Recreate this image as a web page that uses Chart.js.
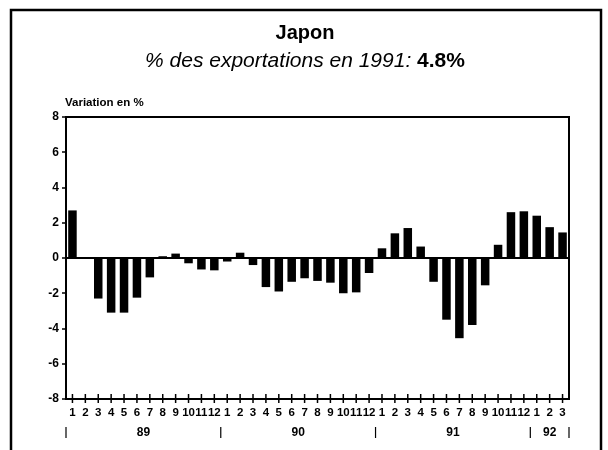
<!DOCTYPE html>
<html>
<head>
<meta charset="utf-8">
<script src="https://cdn.jsdelivr.net/npm/chart.js@4"></script>
<style>
  html, body { margin: 0; padding: 0; background: #fff; }
  #wrap { width: 608px; height: 450px; }
</style>
</head>
<body>
<div id="wrap"><canvas id="chart" width="608" height="450"></canvas></div>
<script>
// Monthly labels, Jan 1989 - Mar 1992
const months = [
  '1','2','3','4','5','6','7','8','9','10','11','12',
  '1','2','3','4','5','6','7','8','9','10','11','12',
  '1','2','3','4','5','6','7','8','9','10','11','12',
  '1','2','3'
];
const years = ['89', '90', '91', '92'];
const variation = [
  2.7, -0.05, -2.3, -3.1, -3.1, -2.25, -1.1, 0.1, 0.25, -0.3, -0.65, -0.7,
  -0.2, 0.3, -0.4, -1.65, -1.9, -1.35, -1.15, -1.3, -1.4, -2.0, -1.95, -0.85,
  0.55, 1.4, 1.7, 0.65, -1.35, -3.5, -4.55, -3.8, -1.55, 0.75, 2.6, 2.65, 2.4,
  1.75, 1.45
];
const yTicks = [-8, -6, -4, -2, 0, 2, 4, 6, 8];

const FONT = '"Liberation Sans", Arial, sans-serif';

// Frame, titles, month ticks and year separators
const decorPlugin = {
  id: 'decor',
  afterDraw(chart) {
    const ctx = chart.ctx;
    const area = chart.chartArea;
    const x = chart.scales.x;
    ctx.save();
    ctx.strokeStyle = '#000';
    ctx.fillStyle = '#000';

    // outer frame
    ctx.lineWidth = 2.5;
    ctx.strokeRect(11, 10, 590, 460);

    // plot box
    ctx.lineWidth = 2;
    ctx.strokeRect(area.left, area.top, area.right - area.left, area.bottom - area.top);

    // month tick marks crossing the axis
    ctx.lineWidth = 1.5;
    months.forEach((m, i) => {
      const px = x.getPixelForValue(i);
      ctx.beginPath();
      ctx.moveTo(px, area.bottom - 5);
      ctx.lineTo(px, area.bottom + 4);
      ctx.stroke();
    });

    // year separators and labels
    const bounds = [area.left];
    for (let i = 12; i < months.length; i += 12) {
      bounds.push((x.getPixelForValue(i - 1) + x.getPixelForValue(i)) / 2);
    }
    bounds.push(area.right);
    ctx.lineWidth = 1.2;
    bounds.forEach(b => {
      ctx.beginPath();
      ctx.moveTo(b, area.bottom + 28);
      ctx.lineTo(b, area.bottom + 39);
      ctx.stroke();
    });
    ctx.font = 'bold 12px ' + FONT;
    ctx.textAlign = 'center';
    ctx.textBaseline = 'middle';
    years.forEach((y, i) => {
      ctx.fillText(y, (bounds[i] + bounds[i + 1]) / 2, area.bottom + 34);
    });

    // titles
    ctx.font = 'bold 20px ' + FONT;
    ctx.fillText('Japon', 305, 33);

    const part1 = '% des exportations en 1991: ';
    const part2 = '4.8%';
    ctx.font = 'italic 21px ' + FONT;
    const w1 = ctx.measureText(part1).width;
    ctx.font = 'bold 21px ' + FONT;
    const w2 = ctx.measureText(part2).width;
    const start = 305 - (w1 + w2) / 2;
    ctx.textAlign = 'left';
    ctx.font = 'italic 21px ' + FONT;
    ctx.fillText(part1, start, 61);
    ctx.font = 'bold 21px ' + FONT;
    ctx.fillText(part2, start + w1, 61);

    ctx.font = 'bold 11.5px ' + FONT;
    ctx.fillText('Variation en %', area.left - 1, 103);
    ctx.restore();
  }
};

new Chart(document.getElementById('chart'), {
  type: 'bar',
  data: {
    labels: months,
    datasets: [{
      data: variation,
      backgroundColor: '#000',
      borderWidth: 0,
      barPercentage: 0.66,
      categoryPercentage: 1.0
    }]
  },
  options: {
    responsive: false,
    animation: false,
    layout: { padding: { left: 18, right: 39, top: 117, bottom: 0 } },
    plugins: {
      legend: { display: false },
      title: { display: false },
      tooltip: { enabled: false }
    },
    scales: {
      x: {
        grid: { display: false, drawTicks: false },
        border: { display: false },
        ticks: {
          autoSkip: false,
          maxRotation: 0,
          padding: 7,
          color: '#000',
          font: { family: FONT, size: 11.5, weight: 'bold' }
        },
        afterFit(scale) { scale.height = 51; }
      },
      y: {
        min: -8,
        max: 8,
        afterBuildTicks(scale) {
          scale.ticks = yTicks.map(v => ({ value: v }));
        },
        grid: {
          drawOnChartArea: true,
          color: c => (c.tick && c.tick.value === 0 ? '#000' : 'rgba(0,0,0,0)'),
          lineWidth: c => (c.tick && c.tick.value === 0 ? 2 : 0),
          tickColor: '#000',
          tickLength: 4,
          tickWidth: 1.5
        },
        border: { display: false },
        ticks: {
          padding: 3,
          color: '#000',
          font: { family: FONT, size: 12, weight: 'bold' }
        },
        afterFit(scale) { scale.width = 48; }
      }
    }
  },
  plugins: [decorPlugin]
});
</script>
</body>
</html>
